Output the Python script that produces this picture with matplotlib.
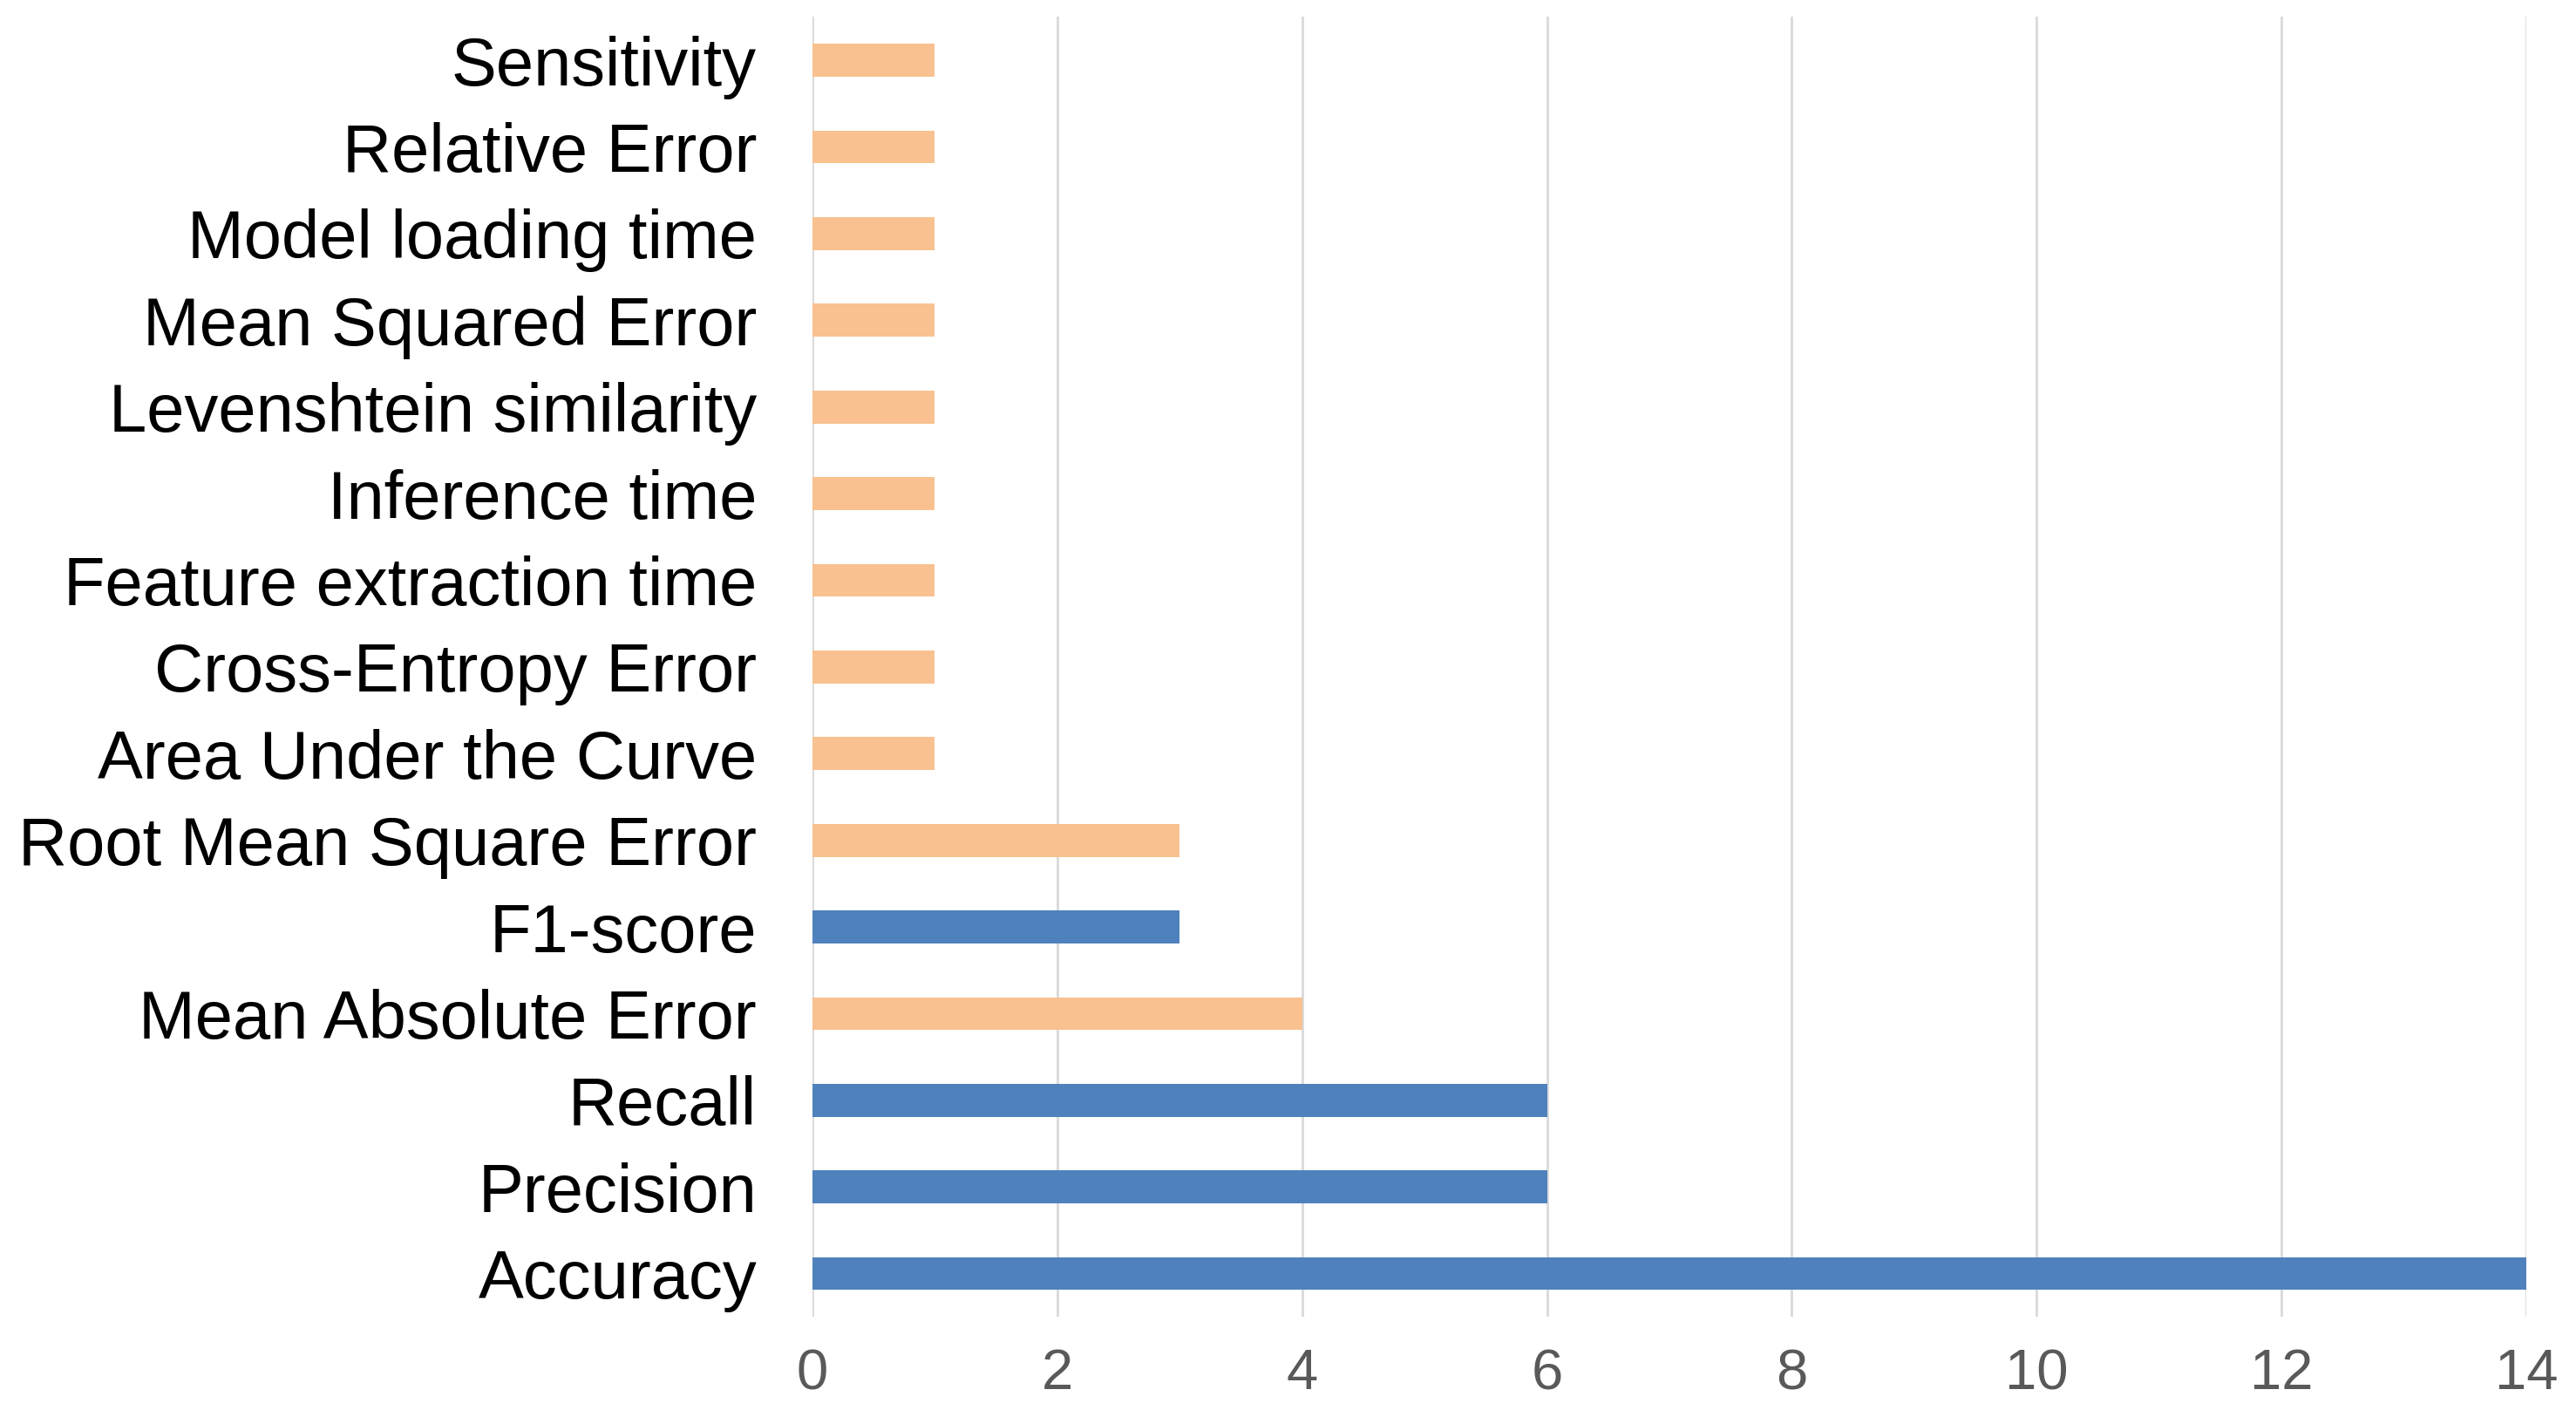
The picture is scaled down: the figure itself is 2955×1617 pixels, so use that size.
import matplotlib
matplotlib.use("Agg")
import matplotlib.pyplot as plt

# bottom-to-top order, as drawn
metrics = [
    "Accuracy", "Precision", "Recall", "Mean Absolute Error", "F1-score",
    "Root Mean Square Error", "Area Under the Curve", "Cross-Entropy Error",
    "Feature extraction time", "Inference time", "Levenshtein similarity",
    "Mean Squared Error", "Model loading time", "Relative Error", "Sensitivity",
]
counts = [14, 6, 6, 4, 3, 3, 1, 1, 1, 1, 1, 1, 1, 1, 1]
groups = ["cls", "cls", "cls", "reg", "cls", "reg", "reg", "reg",
          "reg", "reg", "reg", "reg", "reg", "reg", "reg"]
x_ticks = [0, 2, 4, 6, 8, 10, 12, 14]

colors = {"cls": "#4F81BD", "reg": "#F8C18F"}

plt.rcParams["font.family"] = ["Liberation Sans", "DejaVu Sans"]

fig = plt.figure(figsize=(29.55, 16.17), dpi=100)
ax = fig.add_axes([0.3154, 0.0660, 0.6653, 0.9220])

ypos = list(range(len(metrics)))
ax.barh(ypos, counts, height=0.38, color=[colors[g] for g in groups], zorder=3)

ax.set_xlim(0, 14)
ax.set_ylim(-0.5, len(metrics) - 0.5)
ax.set_xticks(x_ticks)
ax.set_xticklabels([str(t) for t in x_ticks], fontsize=47, color="#595959")
ax.set_yticks(ypos)
ax.set_yticklabels(metrics, fontsize=56, color="black")
ax.tick_params(axis="both", length=0)
ax.tick_params(axis="y", pad=46)
ax.tick_params(axis="x", pad=26)

ax.grid(axis="x", color="#D9D9D9", linewidth=2, zorder=0)
for s in ax.spines.values():
    s.set_visible(False)

fig.savefig("out.png", dpi=100, facecolor="white")
